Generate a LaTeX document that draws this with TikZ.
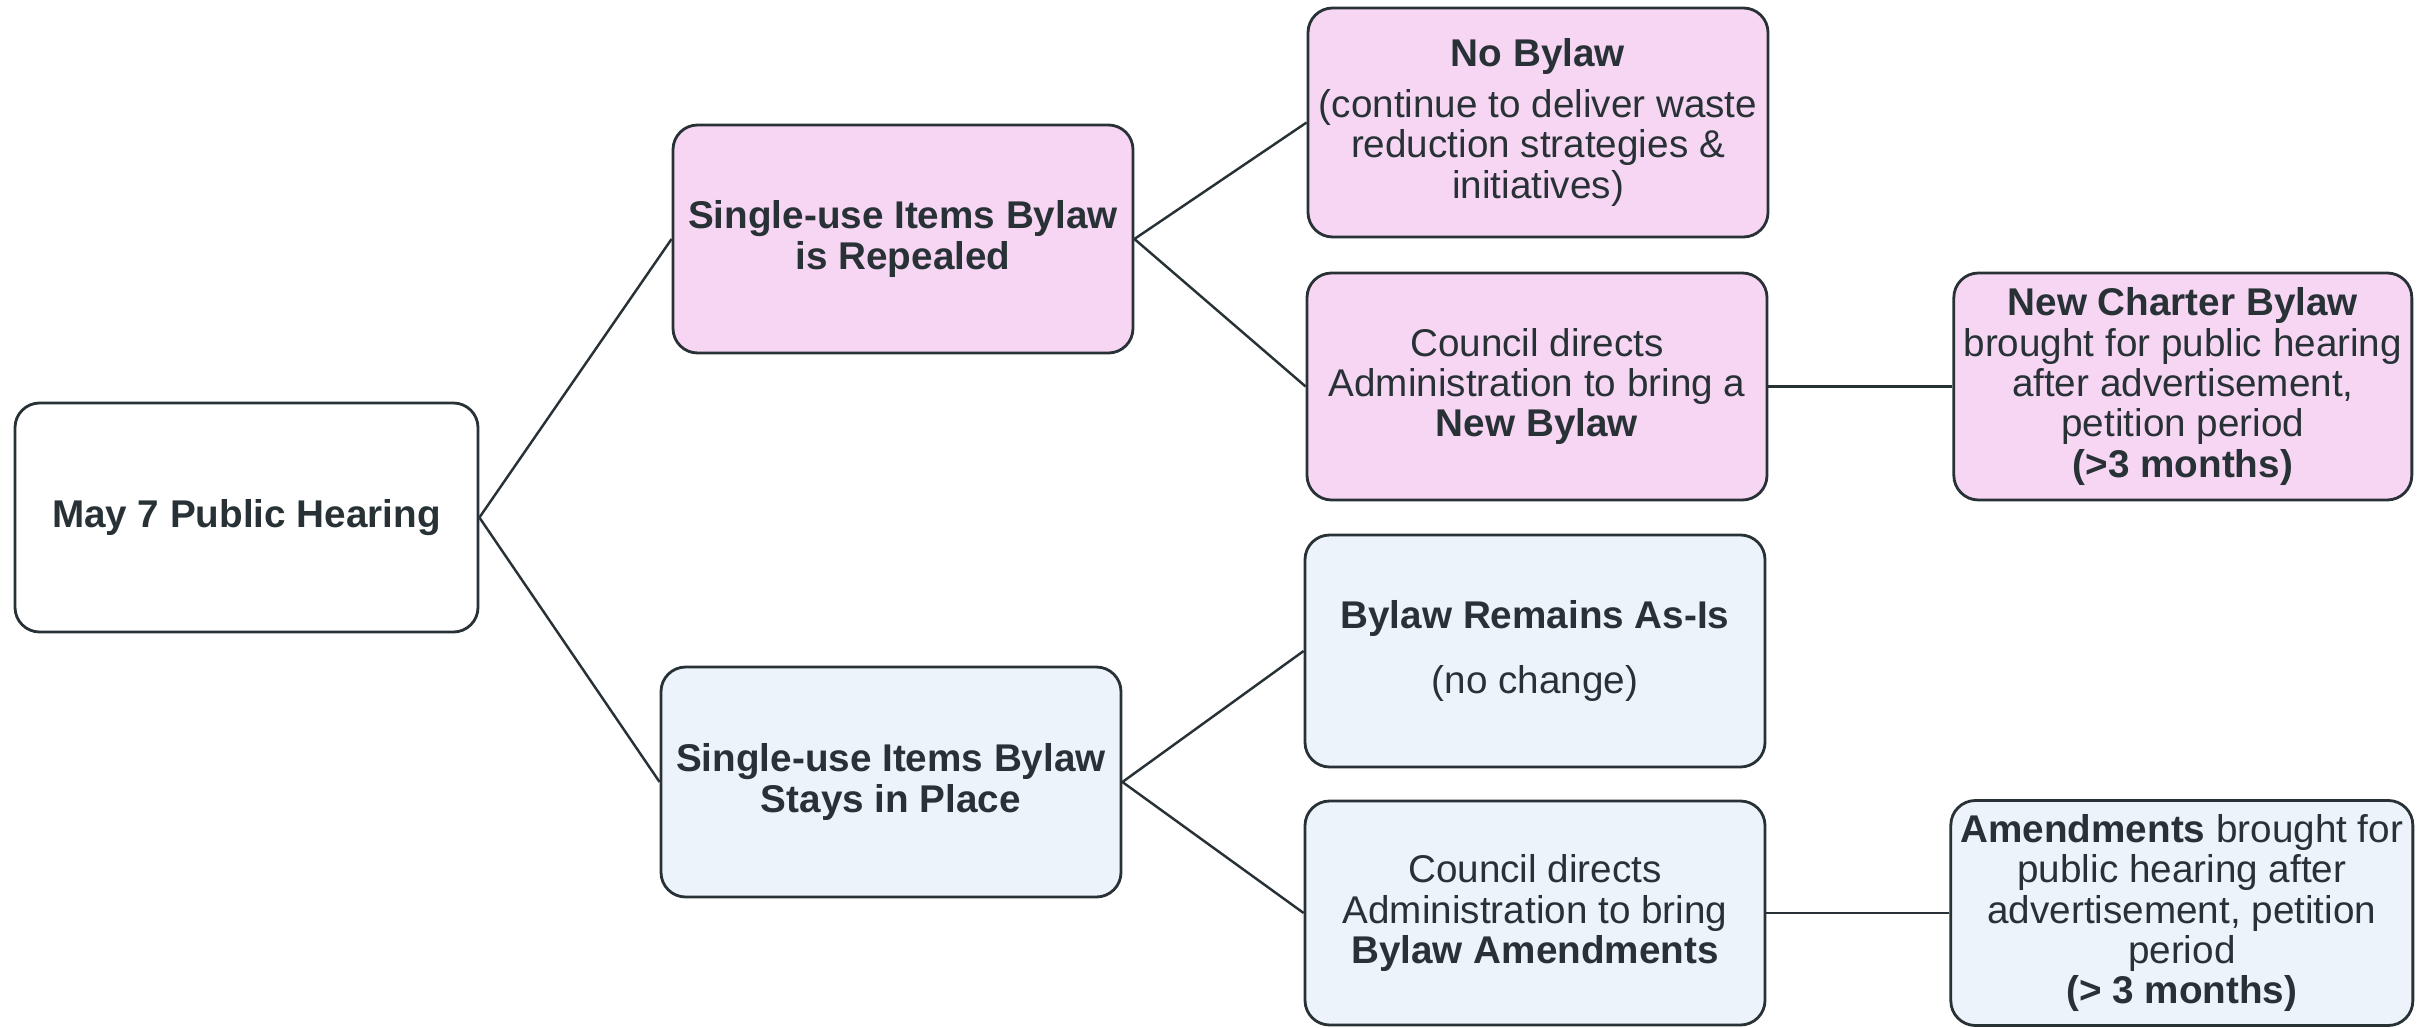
\documentclass[tikz,border=0pt]{standalone}
\usepackage{fontspec}
\setmainfont{Liberation Sans}
\usetikzlibrary{positioning}

\definecolor{inkgrey}{RGB}{40,50,54}
\definecolor{repealpink}{RGB}{246,214,242}
\definecolor{staysblue}{RGB}{236,243,250}

\begin{document}
\begin{tikzpicture}[
    option/.style={
        draw=inkgrey,
        line width=0.8pt,
        rounded corners=7pt,
        align=center,
        text=inkgrey,
        inner sep=2pt,
        minimum width=4.6cm,
        minimum height=2.25cm,
        font=\fontsize{11}{11.5}\selectfont,
    },
    repealbox/.style={
        option,
        fill=repealpink,
    },
    staysbox/.style={
        option,
        fill=staysblue,
    },
    branch/.style={
        draw=inkgrey,
        line width=0.7pt,
    }
]
    \useasboundingbox (0,0) rectangle (24.22,10.27);

    % Hearing
    \node[option, fill=white, minimum width=4.63cm, minimum height=2.29cm] (hearing) at (2.465,5.095) {\textbf{May 7 Public Hearing}};

    % Outcomes
    \node[repealbox, minimum height=2.28cm] (repealed) at (9.03,7.88) {\textbf{Single-use Items Bylaw}\\\textbf{is Repealed}};
    \node[staysbox, minimum height=2.30cm] (stays) at (8.91,2.45) {\textbf{Single-use Items Bylaw}\\\textbf{Stays in Place}};

    % Next steps
    \node[repealbox, minimum height=2.29cm] (nobylaw) at (15.38,9.045) {\textbf{No Bylaw}\\[3pt](continue to deliver waste\\reduction strategies \&\\initiatives)};
    \node[repealbox, minimum height=2.27cm] (newbylaw) at (15.37,6.405) {Council directs\\Administration to bring a\\\textbf{New Bylaw}};
    \node[staysbox, minimum height=2.32cm] (remains) at (15.35,3.76) {\textbf{Bylaw Remains As-Is}\\[7pt](no change)};
    \node[staysbox, minimum height=2.24cm] (amendbylaw) at (15.35,1.14) {Council directs\\Administration to bring\\\textbf{Bylaw Amendments}};

    % Public hearing again
    \node[repealbox, minimum width=4.58cm, minimum height=2.27cm, right=1.84cm of newbylaw] (charter) {\textbf{New Charter Bylaw}\\brought for public hearing\\after advertisement,\\petition period\\\textbf{(>3 months)}};
    \node[staysbox, minimum width=4.62cm, minimum height=2.25cm, right=1.83cm of amendbylaw] (amend) {\textbf{Amendments} brought for\\public hearing after\\advertisement, petition\\period\\\textbf{(> 3 months)}};

    % Links
    \draw[branch] (hearing.east) -- (repealed.west);
    \draw[branch] (hearing.east) -- (stays.west);
    \draw[branch] (repealed.east) -- (nobylaw.west);
    \draw[branch] (repealed.east) -- (newbylaw.west);
    \draw[branch] (stays.east) -- (remains.west);
    \draw[branch] (stays.east) -- (amendbylaw.west);
    \draw[branch] (newbylaw) -- (charter);
    \draw[branch] (amendbylaw) -- (amend);
\end{tikzpicture}
\end{document}
